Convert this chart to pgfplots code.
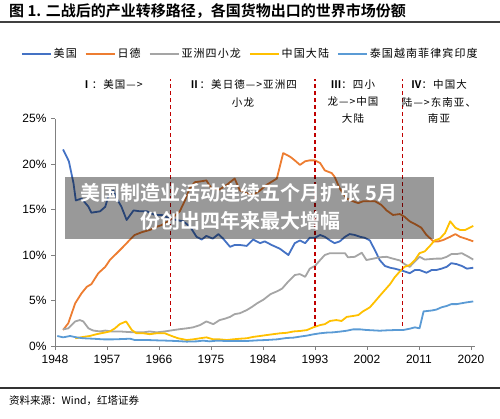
\documentclass[border=0pt]{standalone}
\usepackage{pgfplots}
\pgfplotsset{compat=1.18}
\usepackage{fontspec}
\setmainfont{Liberation Sans}
\newfontfamily\cjk{Noto Sans CJK SC}[BoldFont={Noto Sans CJK SC Bold}]
\newfontfamily\cjkls{Noto Sans CJK SC}[LetterSpace=10,BoldFont={Noto Sans CJK SC Bold}]
\definecolor{cUS}{HTML}{4472C4}
\definecolor{cJD}{HTML}{ED7D31}
\definecolor{cTG}{HTML}{A5A5A5}
\definecolor{cCN}{HTML}{FFC000}
\definecolor{cSE}{HTML}{5B9BD5}
\definecolor{cRed}{HTML}{C00000}
\begin{document}
\begin{tikzpicture}
\path[use as bounding box] (0pt,0pt) rectangle (500pt,418pt);
\begin{axis}[
  at={(55pt,72pt)}, anchor=south west, scale only axis,
  width=420pt, height=227.5pt,
  xmin=1948, xmax=2020.7, ymin=0, ymax=25,
  axis lines=left, axis line style={-, draw=black!50, line width=0.8pt},
  xtick={1948,1957,...,2020}, ytick={0,5,...,25},
  yticklabel={\pgfmathprintnumber{\tick}\%},
  /pgf/number format/assume math mode=true,
  x tick label style={/pgf/number format/1000 sep={}, yshift=-2pt},
  y tick label style={xshift=-1pt},
  tick align=outside, major tick length=4pt,
  tick style={draw=black!50, line width=0.8pt},
  tick label style={font=\fontsize{12}{12}\selectfont, text=black},
  clip=false,
  legend style={draw=none, fill=none, at={(0.465,1.285)}, anchor=center,
    legend columns=5, font=\cjkls\fontsize{11}{12}\selectfont,
    /tikz/every even column/.append style={column sep=6pt}, inner sep=0pt},
  legend image code/.code={\draw[#1,line width=1.8pt] (0pt,0pt) -- (29pt,0pt);},
  every axis plot/.append style={line width=1.8pt, line join=round},
]
\addplot[cUS] coordinates {
(1949.4,21.6)(1950.4,20.3)(1951.2,17.9)(1951.6,16.0)(1952.6,16.2)(1953.8,15.3)
(1954.3,14.65)(1955.8,14.8)(1956.7,15.3)(1957.2,16.4)(1958.1,17.1)(1958.7,16.2)
(1959.5,15.3)(1960.4,13.85)(1961.6,14.9)(1962.7,14.8)(1963.9,14.8)(1965.3,14.4)
(1966.5,14.4)(1967.9,14.0)(1969.0,13.85)(1970.2,13.7)(1971.4,13.1)(1972.5,12.0)
(1973.4,11.7)(1974.2,12.1)(1975.3,11.8)(1976.3,12.3)(1977.1,11.8)(1978.3,10.9)
(1979.1,11.1)(1980.0,11.1)(1981.2,11.0)(1982.3,11.7)(1983.5,11.3)(1984.3,11.5)
(1985.5,11.1)(1986.9,10.7)(1988.4,10.0)(1989.5,11.3)(1990.4,11.6)(1991.3,11.3)
(1992.1,11.9)(1993.0,11.9)(1993.9,12.2)(1994.7,12.0)(1995.6,11.6)(1996.4,11.3)
(1997.3,11.5)(1998.2,12.0)(1999.0,12.3)(1999.9,12.2)(2000.8,12.0)(2001.6,11.9)
(2002.5,11.6)(2003.4,10.5)(2004.2,9.45)(2005.1,8.8)(2006.0,8.6)(2006.8,8.5)
(2007.7,8.35)(2008.5,8.2)(2009.4,8.0)(2010.3,8.35)(2011.1,8.35)(2012.3,8.05)
(2013.2,8.35)(2014.0,8.35)(2014.9,8.5)(2015.8,8.7)(2016.6,9.1)(2017.5,9.0)
(2018.4,8.8)(2019.3,8.5)(2020.4,8.6)};
\addlegendentry{美国}
\addplot[cJD] coordinates {
(1949.4,1.76)(1950.3,2.5)(1951.5,4.7)(1952.6,5.8)(1953.5,6.5)(1954.3,6.8)
(1955.5,8.0)(1956.7,8.7)(1957.5,9.45)(1958.7,10.2)(1959.8,10.9)(1960.7,11.5)
(1961.8,12.2)(1963.0,12.5)(1964.4,12.75)(1965.6,13.1)(1966.5,13.3)(1967.9,13.85)
(1969.6,14.8)(1970.5,16.0)(1971.3,17.3)(1972.2,18.0)(1973.3,18.1)(1974.2,18.2)
(1975.1,17.3)(1976.5,17.2)(1977.7,17.7)(1979.1,18.4)(1980.0,17.1)(1981.2,16.8)
(1982.3,16.6)(1983.5,17.1)(1984.6,17.7)(1986.4,18.4)(1987.5,21.2)(1988.7,20.8)
(1989.5,20.4)(1990.4,19.9)(1991.3,20.3)(1992.1,20.4)(1993.0,20.4)(1993.9,20.1)
(1994.7,19.3)(1995.9,19.0)(1996.4,18.6)(1997.3,17.3)(1998.5,16.2)(1999.6,15.9)
(2000.5,15.7)(2001.3,15.9)(2002.5,15.9)(2003.4,15.9)(2004.5,15.5)(2005.4,14.9)
(2006.5,14.4)(2007.7,14.5)(2008.5,14.2)(2009.4,13.7)(2010.6,13.3)(2011.4,13.0)
(2012.3,12.2)(2013.5,11.5)(2014.4,11.5)(2015.2,11.65)(2016.4,12.0)(2017.3,12.3)
(2018.1,12.0)(2019.3,11.75)(2020.4,11.5)};
\addlegendentry{日德}
\addplot[cTG] coordinates {
(1949.4,1.83)(1950.3,1.94)(1951.5,2.7)(1952.3,2.85)(1952.9,2.7)(1953.8,1.94)
(1954.6,1.7)(1955.8,1.6)(1956.7,1.7)(1957.8,1.6)(1959.2,1.6)(1960.4,1.55)
(1961.8,1.5)(1963.3,1.5)(1964.4,1.6)(1965.6,1.5)(1967.0,1.6)(1968.5,1.75)
(1969.6,1.85)(1970.8,1.94)(1971.9,2.05)(1973.1,2.3)(1974.2,2.7)(1975.4,2.4)
(1976.5,2.85)(1977.4,3.0)(1978.3,3.2)(1979.1,3.5)(1980.0,3.6)(1981.2,3.95)
(1982.1,4.3)(1983.0,4.7)(1984.1,5.1)(1985.3,5.7)(1986.4,6.0)(1987.3,6.3)
(1988.4,7.1)(1989.5,7.8)(1990.4,7.9)(1991.3,7.6)(1992.1,8.5)(1993.0,8.8)
(1993.9,9.45)(1994.7,10.0)(1995.6,10.2)(1997.0,10.2)(1998.2,10.2)(1998.7,9.75)
(1999.9,9.8)(2001.1,10.25)(2001.9,9.45)(2003.1,9.6)(2004.2,9.75)(2005.4,9.8)
(2006.5,9.6)(2007.7,9.4)(2008.5,9.0)(2009.4,8.7)(2010.3,9.3)(2011.1,9.8)
(2012.0,9.5)(2012.9,9.55)(2014.0,9.6)(2014.9,9.6)(2015.8,9.8)(2016.6,10.1)
(2017.5,10.1)(2018.4,10.2)(2019.3,9.9)(2020.4,9.5)};
\addlegendentry{亚洲四小龙}
\addplot[cCN] coordinates {
(1951.5,0.85)(1952.9,1.0)(1954.0,1.1)(1955.2,1.3)(1956.4,1.45)(1957.5,1.6)
(1958.4,1.95)(1959.2,2.4)(1960.3,2.7)(1961.3,1.75)(1962.1,1.4)(1963.3,1.4)
(1964.4,1.3)(1965.6,1.4)(1967.0,1.4)(1968.2,1.1)(1969.3,0.85)(1970.8,0.66)
(1971.9,0.73)(1973.1,0.85)(1974.2,0.95)(1975.4,0.73)(1976.5,0.73)(1977.7,0.66)
(1978.8,0.73)(1980.0,0.8)(1981.2,0.85)(1982.3,1.0)(1983.5,1.1)(1984.6,1.2)
(1985.8,1.3)(1987.0,1.4)(1988.1,1.45)(1989.3,1.6)(1990.4,1.65)(1991.6,1.75)
(1992.7,2.05)(1993.9,2.3)(1994.7,2.4)(1995.6,2.75)(1996.7,2.85)(1997.6,2.75)
(1998.5,3.2)(1999.6,3.3)(2000.5,3.4)(2001.3,3.8)(2002.5,4.25)(2003.4,4.9)
(2004.2,5.5)(2005.1,6.15)(2006.0,6.8)(2006.8,7.55)(2007.7,8.2)(2008.5,8.7)
(2009.4,8.9)(2010.3,9.45)(2011.1,10.2)(2012.0,10.4)(2012.9,11.0)(2013.7,11.6)
(2014.6,11.8)(2015.5,12.4)(2016.4,13.7)(2017.3,13.0)(2018.1,12.75)(2019.0,12.75)
(2020.4,13.2)};
\addlegendentry{中国大陆}
\addplot[cSE] coordinates {
(1948.4,1.1)(1949.4,0.95)(1950.6,1.1)(1951.7,0.95)(1952.9,0.85)(1954.6,0.8)
(1956.4,0.73)(1958.1,0.73)(1959.8,0.77)(1961.0,0.8)(1961.8,0.66)(1963.9,0.66)
(1965.6,0.62)(1967.3,0.59)(1969.0,0.55)(1970.8,0.48)(1972.5,0.51)(1973.6,0.59)
(1974.8,0.51)(1976.0,0.59)(1977.7,0.55)(1979.4,0.55)(1981.2,0.55)(1983.0,0.62)
(1984.6,0.66)(1986.4,0.73)(1988.1,0.88)(1989.3,0.92)(1990.4,1.03)(1991.6,1.14)
(1992.7,1.28)(1993.9,1.4)(1995.0,1.47)(1996.1,1.5)(1997.3,1.58)(1998.5,1.68)
(1999.6,1.83)(2000.8,1.83)(2001.9,1.76)(2003.1,1.72)(2004.2,1.68)(2005.4,1.72)
(2007.1,1.76)(2008.3,1.76)(2009.4,1.9)(2010.3,2.05)(2011.1,1.94)(2011.8,3.8)
(2013.2,3.9)(2014.0,4.0)(2014.9,4.25)(2015.8,4.4)(2016.6,4.6)(2017.5,4.6)
(2018.4,4.7)(2019.3,4.8)(2020.4,4.9)};
\addlegendentry{泰国越南菲律宾印度}
\draw[cRed, line width=1.2pt, dash pattern=on 4pt off 3pt] (axis cs:1968,2.2) -- (axis cs:1968,29.3);
\draw[cRed, line width=1.2pt, dash pattern=on 4pt off 3pt] (axis cs:1993,2.2) -- (axis cs:1993,29.3);
\draw[cRed, line width=1.2pt, dash pattern=on 4pt off 3pt] (axis cs:2008.2,2.2) -- (axis cs:2008.2,29.3);
\end{axis}
% period labels
\begin{scope}[every node/.style={font=\cjkls\fontsize{10.5}{12}\selectfont, inner sep=0pt}]
\node at (112pt,334pt) {{\bfseries Ⅰ}：美国—>};
\node at (243pt,334pt) {{\bfseries Ⅱ}：美日德—>亚洲四};
\node at (243pt,315pt) {小龙};
\node at (353pt,333pt) {{\bfseries Ⅲ}：四小};
\node at (353pt,316pt) {龙—>中国};
\node at (353pt,299pt) {大陆};
\node at (439pt,333pt) {{\bfseries Ⅳ}：中国大};
\node at (439pt,316pt) {陆—>东南亚、};
\node at (439pt,299pt) {南亚};
\end{scope}
% title and rules
\node[anchor=west, inner sep=0pt, font=\cjk\bfseries\fontsize{15}{16}\selectfont] at (9pt,407pt) {图 1. 二战后的产业转移路径，各国货物出口的世界市场份额};
\draw[line width=2pt, black!75] (0pt,396pt) -- (500pt,396pt);
\draw[line width=1.5pt, black!80] (0pt,30pt) -- (500pt,30pt);
\node[anchor=west, inner sep=0pt, font=\cjk\fontsize{10.5}{12}\selectfont] at (9pt,17.3pt) {资料来源：Wind，红塔证券};
% banner overlay
\fill[black, opacity=0.4] (65pt,179pt) rectangle (434pt,241.3pt);
\node[text=white, inner sep=0pt, font=\cjk\bfseries\fontsize{20}{22}\selectfont] at (239pt,225pt) {美国制造业活动连续五个月扩张 5月};
\node[text=white, inner sep=0pt, font=\cjk\bfseries\fontsize{20}{22}\selectfont] at (240pt,197pt) {份创出四年来最大增幅};
\end{tikzpicture}
\end{document}
